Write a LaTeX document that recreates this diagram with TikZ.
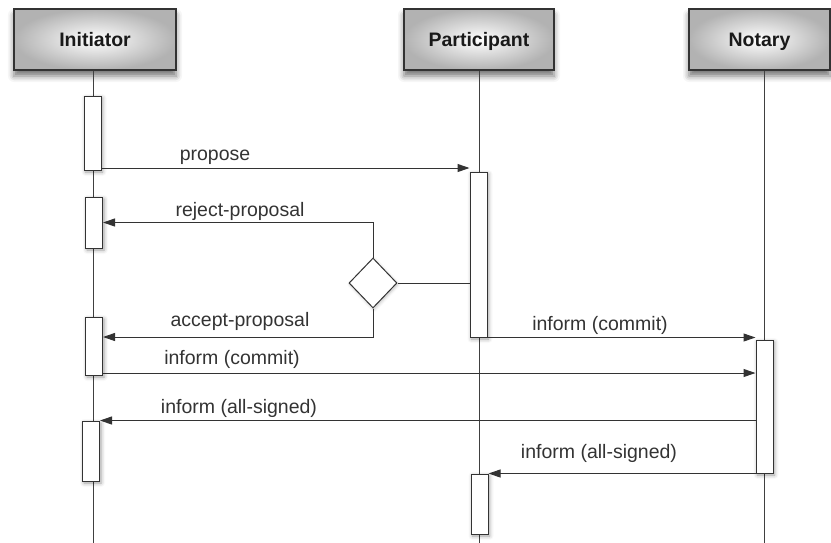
\documentclass[tikz,border=0pt]{standalone}
\usepackage{fontspec}
\setmainfont{Liberation Sans}
\usetikzlibrary{arrows.meta,shapes.geometric,shadows.blur}

\begin{document}
\begin{tikzpicture}[x=1pt,y=-1pt,
  every node/.style={inner sep=0pt},
  header/.style={draw=black!80, line width=1.2pt, minimum width=150pt,
    minimum height=61pt, shading=radial, inner color=white,
    outer color=black!30, text height=14pt, text depth=0pt,
    font=\bfseries\fontsize{19.5}{20}\selectfont, text=black!90,
    blur shadow={shadow xshift=0pt, shadow yshift=-6pt,
      shadow blur radius=6pt, shadow opacity=55}},
  bar/.style={draw=black!80, fill=white, line width=1pt, minimum width=17pt,
    blur shadow={shadow xshift=1.5pt, shadow yshift=-2pt,
      shadow blur radius=4pt, shadow opacity=40}},
  lifeline/.style={draw=black!75, line width=1pt},
  msg/.style={draw=black!80, line width=1pt,
    -{Triangle[length=12pt,width=8pt]}},
  plain/.style={draw=black!80, line width=1pt},
  lbl/.style={anchor=base, font=\fontsize{19.5}{20}\selectfont, text=black!80},
  choice/.style={shape=diamond, draw=black!80, fill=white, line width=1pt,
    minimum width=48pt, minimum height=50pt,
    blur shadow={shadow xshift=1pt, shadow yshift=-1.5pt,
      shadow blur radius=3pt, shadow opacity=25}}]

\clip (0,0) rectangle (831,542);

% actor boxes
\node[header, minimum width=162pt] (ini) at (95,39.5) {Initiator};
\node[header] (par) at (479,39.5) {Participant};
\node[header, minimum width=141pt] (not) at (759.5,39.5) {Notary};

% lifeline ends
\coordinate (iniEnd) at (93,545);
\coordinate (parEnd) at (479,545);
\coordinate (notEnd) at (764,545);

% lifelines
\draw[lifeline] (ini.south -| iniEnd) -- (iniEnd);
\draw[lifeline] (par.south) -- (parEnd);
\draw[lifeline] (not.south -| notEnd) -- (notEnd);

% activation bars
\node[bar, minimum height=74pt] (i1) at (92.5,133) {};
\node[bar, minimum height=51pt] (i2) at (94,222.5) {};
\node[bar, minimum height=58pt] (i3) at (94,346) {};
\node[bar, minimum height=60pt] (i4) at (91,451) {};
\node[bar, minimum height=165pt] (p1) at (478.5,254.5) {};
\node[bar, minimum height=60pt] (p2) at (479.5,504) {};
\node[bar, minimum height=133pt] (n1) at (764.5,406.5) {};

% decision
\node[choice] (d) at (373,283) {};

% messages
\draw[msg] (i1.east |- 0,168) -- (p1.west |- 0,168);
\draw[plain] (p1.west |- d.east) -- (d.east);
\draw[msg] (d.north) |- (i2.east);
\draw[msg] (d.south) |- (i3.east |- 0,337);
\draw[msg] (p1.south east) -- (n1.west |- p1.south);
\draw[msg] (i3.east |- 0,373) -- (n1.west |- 0,373);
\draw[msg] (n1.west |- i4.north) -- (i4.north east);
\draw[msg] (n1.south west) -- (p2.north east);

% message labels
\node[lbl] (l1) at (215,160.5) {propose};
\node[lbl] (l2) at (240,216) {reject-proposal};
\node[lbl] (l3) at (240,326) {accept-proposal};
\node[lbl] (l4) at (600,330) {inform (commit)};
\node[lbl] (l5) at (232,364) {inform (commit)};
\node[lbl] (l6) at (239,413) {inform (all-signed)};
\node[lbl] (l7) at (599,458) {inform (all-signed)};
\end{tikzpicture}
\end{document}
